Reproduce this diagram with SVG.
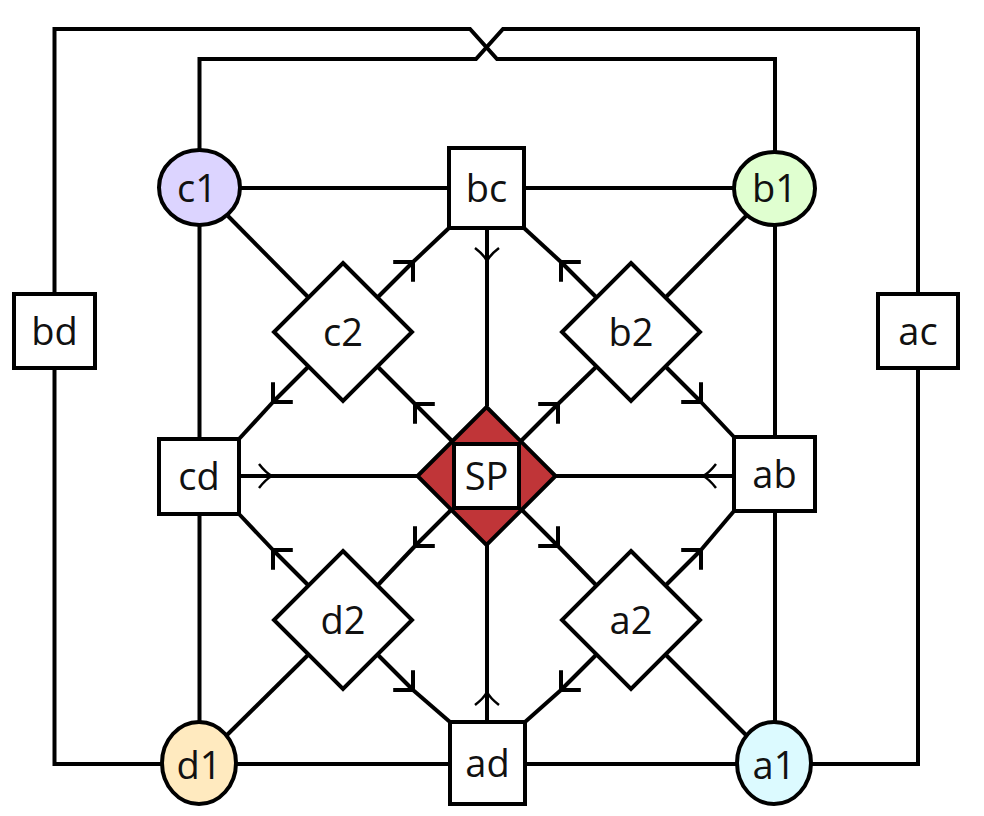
<svg xmlns="http://www.w3.org/2000/svg" width="984" height="816" viewBox="0 0 984 816">
<defs>
<style>
.ln{fill:none;stroke:#000;stroke-width:4;stroke-linejoin:miter}
.bx{fill:#fff;stroke:#000;stroke-width:4}
.tx{font-family:"Open Sans","DejaVu Sans",sans-serif;font-size:38px;fill:#111;text-anchor:middle}
.arr{marker-end:url(#ah)}
.tarr{marker-end:url(#th)}
</style>
<marker id="ah" markerUnits="userSpaceOnUse" viewBox="-20 -20 40 40" markerWidth="40" markerHeight="40" refX="0" refY="0" orient="auto" overflow="visible">
<path d="M-14,-14 L0,0 L-14,14" fill="none" stroke="#000" stroke-width="4"/>
</marker>
<marker id="th" markerUnits="userSpaceOnUse" viewBox="-20 -20 40 40" markerWidth="40" markerHeight="40" refX="0" refY="0" orient="auto" overflow="visible">
<path d="M-13,-12 Q-6,-3 0,0 Q-6,3 -13,12" fill="none" stroke="#000" stroke-width="2.5"/>
</marker>
</defs>
<rect width="984" height="816" fill="#fff"/>
<g id="connectors">
<!-- outer loops -->
<path class="ln" d="M54.5,294 V29 H470 L497,59 H775 V151"/>
<path class="ln" d="M199.5,150 V59 H476 L503,29 H918 V294"/>
<path class="ln" d="M54.5,368 V764 H162"/>
<path class="ln" d="M918,368 V764 H811"/>
<!-- box/circle ring -->
<path class="ln" d="M240,188 H449"/>
<path class="ln" d="M524,188 H734"/>
<path class="ln" d="M236,764 H450"/>
<path class="ln" d="M525,764 H737"/>
<path class="ln" d="M199.5,225 V439"/>
<path class="ln" d="M199.5,514 V722"/>
<path class="ln" d="M775,226 V437"/>
<path class="ln" d="M775,511 V722"/>
<!-- circle to diamond -->
<path class="ln" d="M228,216 L307.5,296.5"/>
<path class="ln" d="M746,216 L666.5,296.5"/>
<path class="ln" d="M227,735 L307.5,655.5"/>
<path class="ln" d="M746,735 L666.5,655.5"/>
<!-- x2 to boxes -->
<path class="ln arr" d="M378.5,296.5 L413,262"/><path class="ln" d="M413,262 L449,228"/>
<path class="ln arr" d="M307.5,367.5 L273,402"/><path class="ln" d="M273,402 L239,439"/>
<path class="ln arr" d="M595.5,296.5 L561,262"/><path class="ln" d="M561,262 L524,228"/>
<path class="ln arr" d="M666.5,367.5 L701,402"/><path class="ln" d="M701,402 L734,437"/>
<path class="ln arr" d="M307.5,584.5 L273,550"/><path class="ln" d="M273,550 L239,514"/>
<path class="ln arr" d="M378.5,655.5 L413,690"/><path class="ln" d="M413,690 L450,722"/>
<path class="ln arr" d="M666.5,584.5 L701,550"/><path class="ln" d="M701,550 L734,511"/>
<path class="ln arr" d="M595.5,655.5 L561,690"/><path class="ln" d="M561,690 L525,722"/>
<!-- SP to x2 -->
<path class="ln arr" d="M452,441 L415,404"/><path class="ln" d="M415,404 L378.5,367.5"/>
<path class="ln arr" d="M521,441 L558,404"/><path class="ln" d="M558,404 L595.5,367.5"/>
<path class="ln arr" d="M452,509 L415,546"/><path class="ln" d="M415,546 L378.5,584.5"/>
<path class="ln arr" d="M521,509 L558,546"/><path class="ln" d="M558,546 L595.5,584.5"/>
<!-- boxes to SP -->
<path class="ln tarr" d="M487,228 L487,261"/><path class="ln" d="M487,261 L487,406"/>
<path class="ln tarr" d="M239,476 L272,476"/><path class="ln" d="M272,476 L418,476"/>
<path class="ln tarr" d="M734,476 L703,476"/><path class="ln" d="M703,476 L555,476"/>
<path class="ln tarr" d="M487,722 L487,692"/><path class="ln" d="M487,692 L487,544"/>
</g>
<g id="bd"><rect class="bx" x="14" y="294" width="81" height="74"/><text class="tx" x="54.5" y="345">bd</text></g>
<g id="ac"><rect class="bx" x="878" y="294" width="80" height="74"/><text class="tx" x="918" y="345">ac</text></g>
<g id="bc"><rect class="bx" x="449" y="148" width="75" height="80"/><text class="tx" x="486.5" y="202">bc</text></g>
<g id="cd"><rect class="bx" x="159" y="439" width="80" height="75"/><text class="tx" x="199" y="490">cd</text></g>
<g id="ab"><rect class="bx" x="734" y="437" width="81" height="74"/><text class="tx" x="774.5" y="488">ab</text></g>
<g id="ad"><rect class="bx" x="450" y="722" width="75" height="82"/><text class="tx" x="487.5" y="777">ad</text></g>
<g id="c1"><ellipse cx="199.5" cy="187.5" rx="40.5" ry="37.5" fill="#dcd4ff" stroke="#000" stroke-width="4"/><text class="tx" x="197" y="202">c1</text></g>
<g id="b1"><ellipse cx="774.5" cy="188.5" rx="40.5" ry="36.5" fill="#e0ffd0" stroke="#000" stroke-width="4"/><text class="tx" x="774.5" y="202">b1</text></g>
<g id="d1"><ellipse cx="199" cy="763" rx="37" ry="41" fill="#ffeabf" stroke="#000" stroke-width="4"/><text class="tx" x="199" y="779">d1</text></g>
<g id="a1"><ellipse cx="774" cy="763" rx="37" ry="41" fill="#dcfaff" stroke="#000" stroke-width="4"/><text class="tx" x="774" y="779">a1</text></g>
<g id="c2"><polygon class="bx" points="343,263 412,332 343,401 274,332"/><text class="tx" x="343" y="346">c2</text></g>
<g id="b2"><polygon class="bx" points="631,263 700,332 631,401 562,332"/><text class="tx" x="631" y="346">b2</text></g>
<g id="d2"><polygon class="bx" points="343,551 412,620 343,689 274,620"/><text class="tx" x="343" y="634">d2</text></g>
<g id="a2"><polygon class="bx" points="631,551 700,620 631,689 562,620"/><text class="tx" x="631" y="634">a2</text></g>
<g id="SP"><polygon points="486.5,407 555.5,476 486.5,545 417.5,476" fill="#c03538" stroke="#000" stroke-width="4"/><rect class="bx" x="454" y="444" width="65" height="64"/><text class="tx" x="486.5" y="490">SP</text></g>
</svg>
